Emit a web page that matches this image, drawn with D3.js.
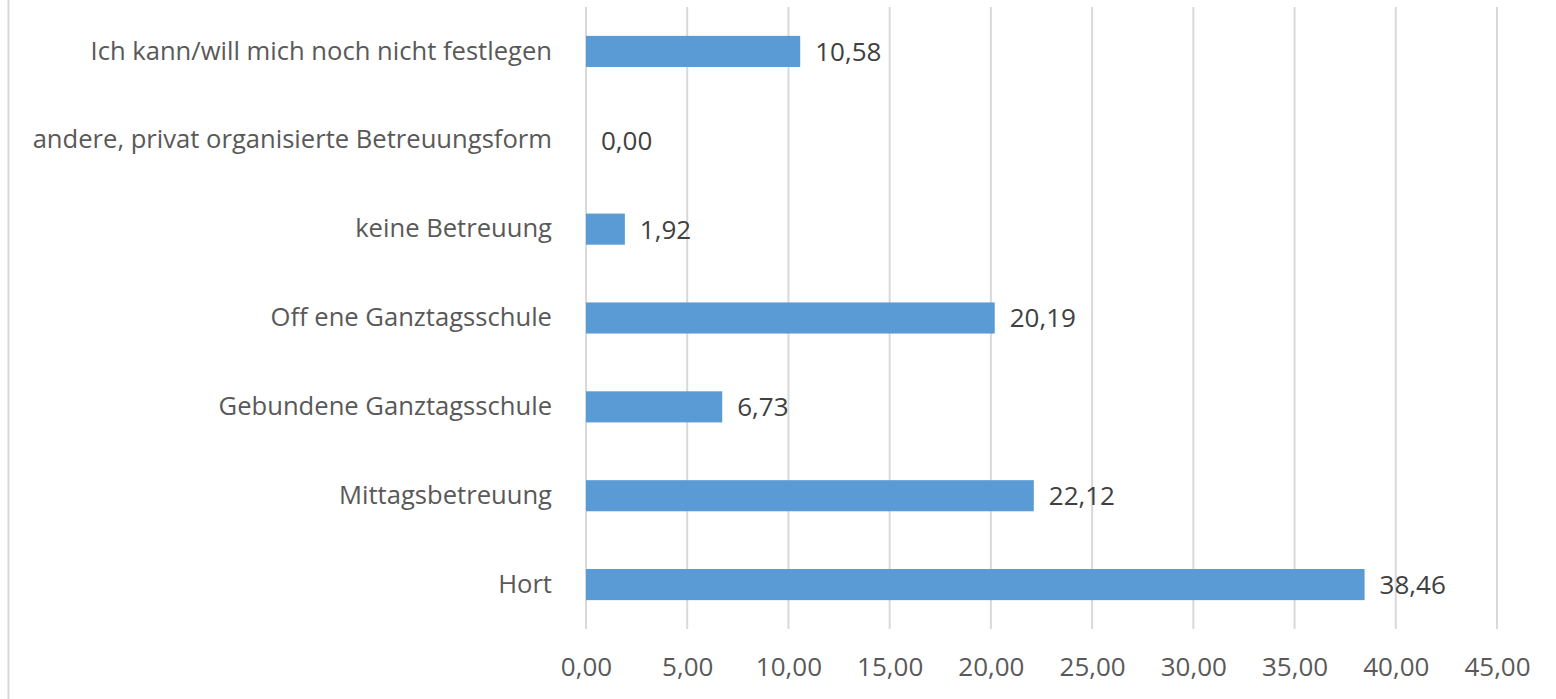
<!DOCTYPE html>
<meta charset="utf-8">
<style>
  body { margin: 0; background: #fff; font-family: 'Open Sans', sans-serif; }
  .tick text { fill: #595959; }
</style>
<body>
<svg width="1556" height="699"></svg>
<script src="https://cdn.jsdelivr.net/npm/d3@7"></script>
<script>

var categories = [
  "Ich kann/will mich noch nicht festlegen",
  "andere, privat organisierte Betreuungsform",
  "keine Betreuung",
  "Off ene Ganztagsschule",
  "Gebundene Ganztagsschule",
  "Mittagsbetreuung",
  "Hort"
];
var values = [10.58, 0.00, 1.92, 20.19, 6.73, 22.12, 38.46];
var xTicks = [0, 5, 10, 15, 20, 25, 30, 35, 40, 45];

var svg = d3.select("svg"),
    width = +svg.attr("width"),
    height = +svg.attr("height");

var plotLeft = 586, plotRight = 1497, plotTop = 7, plotBottom = 629;

var fmt = function(v) { return d3.format(".2f")(v).replace(".", ","); };

var x = d3.scaleLinear().domain([0, 45]).range([plotLeft, plotRight]);
var y = d3.scaleBand().domain(categories).range([plotTop, plotBottom]).paddingInner(0.65).paddingOuter(0.325);

// frame line on the left
svg.append("line")
    .attr("x1", 8.5).attr("x2", 8.5)
    .attr("y1", 0).attr("y2", height)
    .style("stroke", "#d9d9d9")
    .style("stroke-width", "2px");

// gridlines
svg.append("g")
    .selectAll("line")
    .data(xTicks)
    .enter().append("line")
      .attr("x1", function(d) { return x(d); })
      .attr("x2", function(d) { return x(d); })
      .attr("y1", plotTop)
      .attr("y2", plotBottom)
      .style("stroke", "#d9d9d9")
      .style("stroke-width", "2px");

// x axis labels
var xAxis = svg.append("g")
    .attr("transform", "translate(0," + plotBottom + ")")
    .call(d3.axisBottom(x).tickValues(xTicks).tickFormat(fmt).tickSize(0).tickPadding(29));
xAxis.select(".domain").remove();
xAxis.selectAll("text")
    .style("font-family", "'Open Sans', sans-serif")
    .style("font-size", "26px");

// category labels
var yAxis = svg.append("g")
    .attr("transform", "translate(" + (plotLeft - 34) + ",0)")
    .call(d3.axisLeft(y).tickSize(0).tickPadding(0));
yAxis.select(".domain").remove();
yAxis.selectAll("text")
    .style("font-family", "'Open Sans', sans-serif")
    .style("font-size", "25.6px");

// bars
svg.append("g")
    .selectAll("rect")
    .data(values)
    .enter().append("rect")
      .attr("x", x(0))
      .attr("y", function(d, i) { return y(categories[i]); })
      .attr("width", function(d) { return x(d) - x(0); })
      .attr("height", y.bandwidth())
      .style("fill", "#5b9bd5");

// value labels
svg.append("g")
    .selectAll("text")
    .data(values)
    .enter().append("text")
      .attr("x", function(d) { return x(d) + 15; })
      .attr("y", function(d, i) { return y(categories[i]) + y.bandwidth() / 2; })
      .attr("dy", "0.36em")
      .style("font-size", "26px")
      .style("fill", "#404040")
      .text(function(d) { return fmt(d); });

</script>
</body>
